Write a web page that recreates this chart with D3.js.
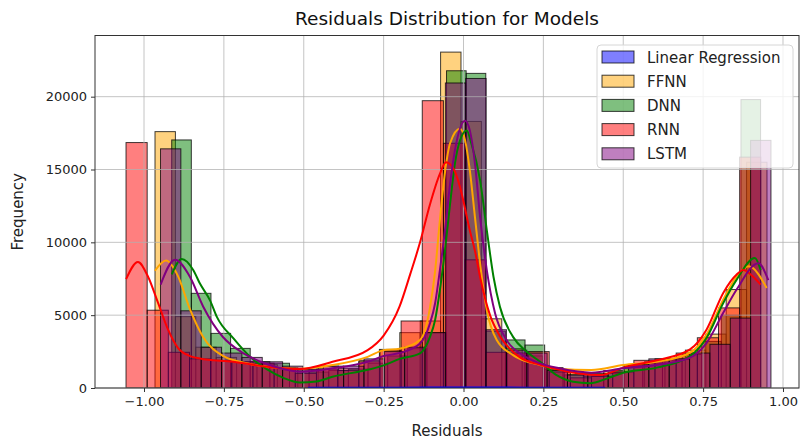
<!DOCTYPE html>
<html>
<head>
<meta charset="utf-8">
<script src="https://cdn.jsdelivr.net/npm/d3@7"></script>
<style>
  body { margin: 0; background: #fff; }
  svg { display: block; }
  text { font-family: "DejaVu Sans", sans-serif; }
</style>
</head>
<body>
<svg id="chart" width="804" height="441"></svg>
<script>
// ---- Data: residual histograms (30 bins per model) and their KDE curves ----
const modelNames = ["Linear Regression", "FFNN", "DNN", "RNN", "LSTM"];

const xTickValues = [-1.0, -0.75, -0.5, -0.25, 0.0, 0.25, 0.5, 0.75, 1.0];
const yTickValues = [0, 5000, 10000, 15000, 20000];

// Linear Regression
const lrBinStart = -0.487, lrBinWidth = 0.031;
const lrCounts = [4, 5, 6, 8, 9, 11, 13, 16, 19, 23, 27, 31, 35, 38, 40, 40, 38, 35, 31, 27, 23, 19, 16, 13, 11, 9, 7, 6, 5, 4];
const lrKdeX = [-0.487, -0.3, -0.1, 0.0, 0.1, 0.3, 0.443];
const lrKdeY = [10, 18, 30, 36, 30, 18, 10];

// FFNN
const ffnnBinStart = -0.9656, ffnnBinWidth = 0.06385;
const ffnnCounts = [17600, 4900, 2800, 2100, 1800, 1600, 1400, 1250, 1500, 1350, 1900, 2650, 3800, 4600, 23060, 18300, 4750, 2700, 2200, 1400, 1100, 1000, 1200, 1600, 1800, 2000, 2600, 3700, 6760, 15500];
const ffnnKdeX = [-0.966, -0.931, -0.894, -0.856, -0.815, -0.753, -0.668, -0.616, -0.512, -0.41, -0.30, -0.25, -0.20, -0.136, -0.105, -0.089, -0.074, -0.058, -0.042, -0.011, 0.005, 0.020, 0.036, 0.052, 0.073, 0.104, 0.155, 0.24, 0.30, 0.40, 0.50, 0.605, 0.709, 0.761, 0.813, 0.855, 0.892, 0.949];
const ffnnKdeY = [8050, 8750, 7700, 5400, 3500, 2200, 1650, 1460, 1320, 1575, 2140, 2600, 2700, 3300, 5500, 8000, 11500, 14800, 16800, 17790, 17000, 14900, 11700, 8540, 5340, 3290, 2260, 1575, 1300, 1230, 1575, 1800, 2420, 3680, 6080, 7670, 8350, 6870];

// DNN
const dnnBinStart = -0.9133, dnnBinWidth = 0.06144;
const dnnCounts = [17030, 6500, 3750, 2720, 1800, 1700, 1300, 1100, 1200, 1300, 1700, 2200, 2700, 3800, 21780, 21600, 3900, 3300, 2950, 1300, 900, 800, 1000, 1500, 1700, 1900, 2300, 3200, 5000, 19800];
const dnnKdeX = [-0.913, -0.882, -0.846, -0.825, -0.793, -0.772, -0.72, -0.668, -0.616, -0.564, -0.512, -0.46, -0.41, -0.30, -0.25, -0.20, -0.136, -0.105, -0.089, -0.074, -0.058, -0.042, -0.027, -0.011, 0.010, 0.025, 0.052, 0.073, 0.094, 0.114, 0.155, 0.198, 0.24, 0.29, 0.343, 0.396, 0.45, 0.50, 0.605, 0.709, 0.761, 0.813, 0.855, 0.912, 0.930];
const dnnKdeY = [7800, 8850, 8100, 7170, 6000, 4880, 3400, 2140, 1300, 700, 380, 450, 770, 1250, 1550, 2000, 2380, 3510, 4660, 6710, 9450, 12650, 15390, 16990, 17670, 16760, 14250, 10820, 7620, 5570, 3510, 2490, 1800, 900, 430, 330, 660, 1050, 1400, 2190, 3450, 5840, 7440, 8920, 8100];

// RNN
const rnnBinStart = -1.0563, rnnBinWidth = 0.06623;
const rnnCounts = [16850, 5340, 2450, 2000, 1900, 1800, 1700, 1400, 1000, 1300, 1200, 1800, 2600, 4600, 19725, 16800, 8800, 2450, 2400, 2500, 1100, 700, 800, 1100, 1900, 2000, 2400, 3450, 5500, 15850];
const rnnKdeX = [-1.056, -1.019, -0.988, -0.956, -0.925, -0.894, -0.856, -0.825, -0.72, -0.616, -0.512, -0.41, -0.30, -0.25, -0.20, -0.167, -0.136, -0.105, -0.074, -0.055, -0.030, -0.011, 0.020, 0.036, 0.052, 0.083, 0.114, 0.145, 0.177, 0.24, 0.30, 0.36, 0.43, 0.50, 0.605, 0.709, 0.761, 0.813, 0.855, 0.876, 0.905, 0.930];
const rnnKdeY = [7470, 8650, 7670, 5840, 4020, 2760, 2190, 2030, 1800, 1460, 1300, 1800, 2600, 3600, 5600, 7800, 10000, 12600, 14700, 15500, 15000, 13800, 10800, 9400, 7600, 5000, 3560, 2700, 2100, 1600, 1250, 1000, 890, 1400, 1900, 2650, 4020, 6530, 7790, 8100, 7670, 7100];

// LSTM
const lstmBinStart = -0.94836, lstmBinWidth = 0.06369;
const lstmCounts = [16420, 5300, 2800, 2400, 2100, 1800, 1500, 1300, 1500, 1500, 2000, 2500, 2800, 3800, 20940, 21250, 4000, 2600, 2400, 1200, 900, 900, 1100, 1600, 2000, 2000, 2400, 3000, 4800, 17000];
const lstmKdeX = [-0.948, -0.903, -0.856, -0.815, -0.753, -0.690, -0.628, -0.564, -0.512, -0.41, -0.30, -0.25, -0.20, -0.136, -0.105, -0.089, -0.074, -0.058, -0.042, -0.027, 0.005, 0.020, 0.036, 0.052, 0.073, 0.099, 0.135, 0.186, 0.24, 0.30, 0.40, 0.50, 0.605, 0.709, 0.761, 0.813, 0.855, 0.923, 0.954];
const lstmKdeY = [7100, 8800, 7620, 5600, 3500, 2400, 1750, 1300, 1120, 1350, 1800, 2200, 2400, 3060, 4430, 5800, 8080, 10820, 14020, 16300, 18350, 17670, 15390, 11730, 8080, 5120, 3290, 2260, 1690, 1350, 1050, 1350, 1575, 2080, 3100, 5160, 6760, 8560, 7400];

// ---- Assemble series ----
const seriesColors = ["#0000ff", "#ffa500", "#008000", "#ff0000", "#800080"];
const series = [
  { start: lrBinStart, width: lrBinWidth, counts: lrCounts, kx: lrKdeX, ky: lrKdeY },
  { start: ffnnBinStart, width: ffnnBinWidth, counts: ffnnCounts, kx: ffnnKdeX, ky: ffnnKdeY },
  { start: dnnBinStart, width: dnnBinWidth, counts: dnnCounts, kx: dnnKdeX, ky: dnnKdeY },
  { start: rnnBinStart, width: rnnBinWidth, counts: rnnCounts, kx: rnnKdeX, ky: rnnKdeY },
  { start: lstmBinStart, width: lstmBinWidth, counts: lstmCounts, kx: lstmKdeX, ky: lstmKdeY }
].map((s, i) => ({ ...s, name: modelNames[i], color: seriesColors[i] }));

// ---- Layout ----
const plot = { left: 95, right: 799, top: 35.5, bottom: 388 };
const x = d3.scaleLinear().domain([-1.1534, 1.0501]).range([plot.left, plot.right]);
const y = d3.scaleLinear().domain([0, 24200]).range([plot.bottom, plot.top]);

const svg = d3.select("#chart");
svg.append("defs").append("clipPath").attr("id", "plotClip")
  .append("rect")
  .attr("x", plot.left).attr("y", plot.top)
  .attr("width", plot.right - plot.left).attr("height", plot.bottom - plot.top);

// Histogram bars (all patches sit below the grid and the lines)
const barsLayer = svg.append("g").attr("clip-path", "url(#plotClip)");
series.forEach(s => {
  const bins = s.counts.map((c, i) => ({ x0: s.start + i * s.width, x1: s.start + (i + 1) * s.width, c }));
  barsLayer.append("g")
    .selectAll("rect")
    .data(bins)
    .join("rect")
    .attr("x", d => x(d.x0))
    .attr("width", d => x(d.x1) - x(d.x0))
    .attr("y", d => y(d.c))
    .attr("height", d => y(0) - y(d.c))
    .attr("fill", s.color)
    .attr("fill-opacity", 0.5)
    .attr("stroke", "#000")
    .attr("stroke-opacity", 0.75)
    .attr("stroke-width", 1);
});

// Grid
const grid = svg.append("g").attr("stroke", "#b0b0b0").attr("stroke-width", 1).attr("stroke-opacity", 0.75);
grid.selectAll("line.gx").data(xTickValues).join("line").attr("class", "gx")
  .attr("x1", d => x(d)).attr("x2", d => x(d))
  .attr("y1", plot.top).attr("y2", plot.bottom);
grid.selectAll("line.gy").data(yTickValues).join("line").attr("class", "gy")
  .attr("x1", plot.left).attr("x2", plot.right)
  .attr("y1", d => y(d)).attr("y2", d => y(d));

// KDE curves
const linesLayer = svg.append("g").attr("clip-path", "url(#plotClip)");
const kdeLine = d3.line().x(d => x(d[0])).y(d => y(d[1])).curve(d3.curveMonotoneX);
series.forEach(s => {
  linesLayer.append("path")
    .datum(s.kx.map((v, i) => [v, s.ky[i]]))
    .attr("d", kdeLine)
    .attr("fill", "none")
    .attr("stroke", s.color)
    .attr("stroke-width", 2)
    .attr("stroke-linejoin", "round");
});

// Axes
const xAxis = d3.axisBottom(x).tickValues(xTickValues).tickFormat(d3.format(".2f")).tickSize(4).tickPadding(5);
const yAxis = d3.axisLeft(y).tickValues(yTickValues).tickFormat(d3.format("d")).tickSize(4).tickPadding(4);

const gx = svg.append("g").attr("transform", `translate(0,${plot.bottom})`).call(xAxis);
const gy = svg.append("g").attr("transform", `translate(${plot.left},0)`).call(yAxis);
[gx, gy].forEach(g => {
  g.select(".domain").remove();
  g.selectAll(".tick line").attr("stroke", "#333");
  g.selectAll(".tick text").attr("fill", "#222").style("font-size", "13px").style("font-family", "DejaVu Sans, sans-serif");
});

// Frame
svg.append("rect")
  .attr("x", plot.left).attr("y", plot.top)
  .attr("width", plot.right - plot.left).attr("height", plot.bottom - plot.top)
  .attr("fill", "none").attr("stroke", "#333").attr("stroke-width", 1);

// Titles
svg.append("text")
  .attr("x", (plot.left + plot.right) / 2).attr("y", 25)
  .attr("text-anchor", "middle").attr("fill", "#111")
  .style("font-size", "18.5px")
  .text("Residuals Distribution for Models");

svg.append("text")
  .attr("x", (plot.left + plot.right) / 2).attr("y", 436)
  .attr("text-anchor", "middle").attr("fill", "#222")
  .style("font-size", "15px")
  .text("Residuals");

svg.append("text")
  .attr("transform", `translate(23,${(plot.top + plot.bottom) / 2}) rotate(-90)`)
  .attr("text-anchor", "middle").attr("fill", "#222")
  .style("font-size", "15px")
  .text("Frequency");

// Legend
const legend = svg.append("g");
legend.append("rect")
  .attr("x", 597).attr("y", 45).attr("width", 196).attr("height", 123)
  .attr("rx", 4).attr("fill", "#fff").attr("fill-opacity", 0.8)
  .attr("stroke", "#d6d6d6").attr("stroke-width", 1);
series.forEach((s, i) => {
  const cy = 57 + i * 24.2;
  legend.append("rect")
    .attr("x", 602).attr("y", cy - 6).attr("width", 32).attr("height", 12)
    .attr("fill", s.color).attr("fill-opacity", 0.5)
    .attr("stroke", "#000").attr("stroke-opacity", 0.75).attr("stroke-width", 1);
  legend.append("text")
    .attr("x", 647).attr("y", cy + 5.5)
    .attr("fill", "#222").style("font-size", "15px")
    .text(s.name);
});
</script>
</body>
</html>
